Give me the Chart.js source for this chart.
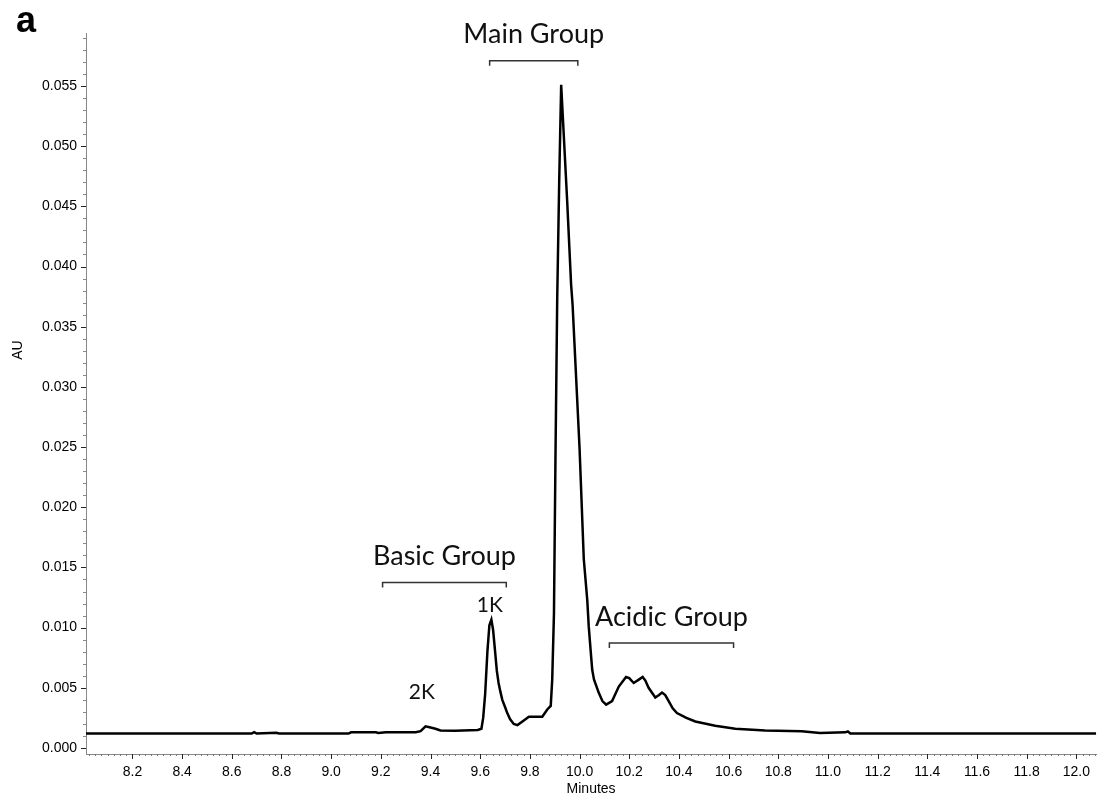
<!DOCTYPE html>
<html>
<head>
<meta charset="utf-8">
<script src="https://cdn.jsdelivr.net/npm/chart.js@4/dist/chart.umd.min.js"></script>
<style>
  html, body { margin: 0; padding: 0; background: #fff; }
</style>
</head>
<body>
<canvas id="chrom" width="1100" height="800"></canvas>
<script>
// retention time (min) and absorbance (AU)
const minutes = [
  8.013, 8.30, 8.50, 8.68, 8.69, 8.70, 8.78, 8.79, 9.00, 9.07,
  9.08, 9.18, 9.19, 9.22, 9.34, 9.36, 9.38, 9.40, 9.42, 9.44,
  9.50, 9.59, 9.605, 9.612, 9.62, 9.629, 9.637, 9.645, 9.652, 9.66,
  9.667, 9.674, 9.681, 9.689, 9.70, 9.709, 9.72, 9.735, 9.75, 9.77,
  9.796, 9.83, 9.85, 9.87, 9.884, 9.89, 9.897, 9.903, 9.91, 9.918,
  9.926, 9.95, 9.966, 9.972, 10.00, 10.017, 10.031, 10.037, 10.045, 10.051,
  10.058, 10.077, 10.092, 10.107, 10.131, 10.158, 10.187, 10.20, 10.218, 10.24,
  10.254, 10.265, 10.278, 10.305, 10.32, 10.332, 10.345, 10.356, 10.375, 10.392,
  10.43, 10.466, 10.546, 10.627, 10.747, 10.894, 10.968, 11.07, 11.08, 11.09,
  11.50, 12.08
];
const absorbance = [
  0.0012, 0.0012, 0.0012, 0.0012, 0.00132, 0.0012, 0.00127, 0.0012, 0.0012, 0.0012,
  0.0013, 0.0013, 0.00125, 0.0013, 0.0013, 0.0014, 0.0018, 0.0017, 0.0016, 0.00146,
  0.00144, 0.0015, 0.0016, 0.0025, 0.0045, 0.0080, 0.0102, 0.01066, 0.0098, 0.0080,
  0.0064, 0.0054, 0.0047, 0.0040, 0.0034, 0.0029, 0.0024, 0.0020, 0.0019, 0.0022,
  0.0026, 0.0026, 0.0026, 0.0032, 0.0035, 0.0057, 0.0112, 0.0240, 0.0372, 0.0470,
  0.0551, 0.0455, 0.0385, 0.0368, 0.0249, 0.0157, 0.0123, 0.0101, 0.0080, 0.0065,
  0.0057, 0.0046, 0.0039, 0.0036, 0.0039, 0.0051, 0.0059, 0.0058, 0.0054, 0.0057,
  0.0059, 0.0056, 0.0050, 0.0042, 0.0044, 0.0046, 0.0044, 0.0040, 0.0033, 0.0029,
  0.0025, 0.0022, 0.00185, 0.0016, 0.00146, 0.00138, 0.00125, 0.0013, 0.00138, 0.0012,
  0.0012, 0.0012
];

// bracketed groups
const groupNames = ['Basic Group', 'Main Group', 'Acidic Group'];
const groupStart = [9.207, 9.638, 10.12];
const groupEnd = [9.705, 9.993, 10.62];
const groupLevel = [0.01375, 0.0571, 0.00872];

// peak labels
const peakNames = ['2K', '1K'];
const peakTimes = [9.365, 9.639];
const peakLabelLevel = [0.00463, 0.0119];

const overlay = {
  id: 'overlay',
  afterDraw(chart) {
    const { ctx, chartArea: a } = chart;
    const x = chart.scales.x, y = chart.scales.y;
    ctx.save();

    // minor / major tick marks
    ctx.lineWidth = 1;
    for (let i = Math.ceil(x.min / 0.025); i * 0.025 <= x.max; i++) {
      const px = Math.round(x.getPixelForValue(i * 0.025)) + 0.5;
      const major = i % 8 === 0;
      ctx.strokeStyle = major ? '#222' : '#777';
      ctx.beginPath();
      ctx.moveTo(px, a.bottom);
      ctx.lineTo(px, a.bottom + (major ? 5 : 2));
      ctx.stroke();
    }
    for (let i = Math.ceil(y.min / 0.001); i * 0.001 <= y.max; i++) {
      const py = Math.round(y.getPixelForValue(i * 0.001)) + 0.5;
      const major = i % 5 === 0;
      ctx.strokeStyle = major ? '#222' : '#888';
      ctx.beginPath();
      ctx.moveTo(a.left, py);
      ctx.lineTo(a.left - (major ? 5 : 3), py);
      ctx.stroke();
    }

    // group brackets
    ctx.strokeStyle = '#333';
    ctx.lineWidth = 1.5;
    ctx.fillStyle = '#111';
    ctx.textAlign = 'center';
    ctx.textBaseline = 'middle';
    ctx.font = '27px Lato';
    groupNames.forEach((name, i) => {
      const x0 = x.getPixelForValue(groupStart[i]);
      const x1 = x.getPixelForValue(groupEnd[i]);
      const py = y.getPixelForValue(groupLevel[i]);
      ctx.beginPath();
      ctx.moveTo(x0, py + 5);
      ctx.lineTo(x0, py);
      ctx.lineTo(x1, py);
      ctx.lineTo(x1, py + 5);
      ctx.stroke();
      ctx.fillText(name, (x0 + x1) / 2, py - 26);
    });

    ctx.font = '21px Lato';
    peakNames.forEach((name, i) => {
      ctx.fillText(name, x.getPixelForValue(peakTimes[i]), y.getPixelForValue(peakLabelLevel[i]));
    });

    // y axis title, set above centre as in the source
    ctx.save();
    ctx.translate(18, 350);
    ctx.rotate(-Math.PI / 2);
    ctx.font = '14px "Liberation Sans"';
    ctx.fillStyle = '#000';
    ctx.fillText('AU', 0, 0);
    ctx.restore();

    // panel letter
    ctx.textAlign = 'left';
    ctx.textBaseline = 'alphabetic';
    ctx.font = 'bold 36px "Liberation Sans"';
    ctx.fillStyle = '#000';
    ctx.fillText('a', 16, 32);
    ctx.restore();
  }
};

new Chart(document.getElementById('chrom'), {
  type: 'line',
  data: {
    datasets: [{
      label: 'AU',
      data: minutes.map((t, i) => ({ x: t, y: absorbance[i] })),
      borderColor: '#000',
      borderWidth: 2.5,
      pointRadius: 0,
      tension: 0,
      fill: false
    }]
  },
  options: {
    responsive: false,
    animation: false,
    layout: { padding: { top: 33, right: 2, left: 0, bottom: 0 } },
    plugins: { legend: { display: false }, tooltip: { enabled: false } },
    scales: {
      x: {
        type: 'linear',
        min: 8.013,
        max: 12.08,
        afterFit: s => { s.height = 46; },
        grid: { display: false, drawTicks: false },
        border: { display: true, color: '#888', width: 1 },
        ticks: {
          stepSize: 0.2,
          includeBounds: false,
          autoSkip: false,
          maxRotation: 0,
          padding: 10,
          color: '#000',
          font: { family: 'Liberation Sans', size: 14 },
          callback: v => v.toFixed(1)
        },
        title: {
          display: true,
          text: 'Minutes',
          color: '#000',
          font: { family: 'Liberation Sans', size: 14 },
          padding: { top: 0, bottom: 2 }
        }
      },
      y: {
        min: -0.0005,
        max: 0.0594,
        afterFit: s => { s.width = 86; },
        grid: { display: false, drawTicks: false },
        border: { display: true, color: '#888', width: 1 },
        ticks: {
          stepSize: 0.005,
          includeBounds: false,
          padding: 9,
          color: '#000',
          font: { family: 'Liberation Sans', size: 14 },
          callback: v => v.toFixed(3)
        },
        title: { display: false }
      }
    }
  },
  plugins: [overlay]
});
</script>
</body>
</html>
